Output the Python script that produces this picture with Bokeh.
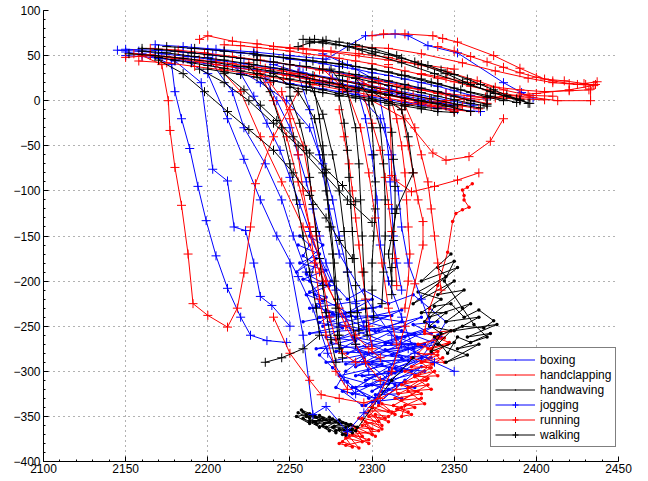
from bokeh.plotting import figure
from bokeh.models import (Range1d, FixedTicker, Legend, LegendItem,
                          CustomJSTickFormatter)
from bokeh.embed import file_html
from bokeh.resources import INLINE

# ---------------- data ----------------
x_ticks = [2100, 2150, 2200, 2250, 2300, 2350, 2400, 2450]
y_ticks = [-400, -350, -300, -250, -200, -150, -100, -50, 0, 50, 100]

series_names = ["boxing", "handclapping", "handwaving", "jogging", "running", "walking"]

boxing_tracks = [
    [(2255, -160), (2268, -170), (2256, -180), (2272, -188), (2258, -198), (2274, -205),
     (2260, -215), (2270, -222), (2262, -200), (2266, -175), (2254, -190), (2270, -160),
     (2262, -150), (2275, -200), (2285, -220), (2295, -210), (2310, -225), (2325, -215),
     (2335, -230), (2345, -245), (2340, -260), (2330, -285), (2315, -300), (2300, -315),
     (2288, -325), (2278, -318), (2284, -300), (2295, -285), (2308, -270), (2320, -262),
     (2332, -255)],
    [(2262, -230), (2300, -220), (2270, -250), (2318, -232), (2278, -265), (2330, -240),
     (2285, -280), (2338, -250), (2290, -295), (2342, -262), (2296, -310), (2336, -280),
     (2300, -322), (2330, -295), (2304, -335), (2320, -310), (2296, -338), (2310, -320),
     (2280, -305), (2322, -288), (2272, -290), (2326, -270), (2266, -275), (2320, -250),
     (2262, -258), (2312, -238), (2268, -240), (2305, -228), (2258, -245)],
    [(2265, -215), (2290, -240), (2272, -232), (2302, -256), (2280, -248), (2312, -270),
     (2288, -262), (2318, -285), (2292, -278), (2324, -300), (2298, -292), (2314, -315),
     (2302, -305), (2290, -318), (2298, -330), (2285, -312), (2276, -296), (2268, -282),
     (2275, -268), (2300, -280), (2325, -275), (2340, -270), (2318, -255), (2295, -245)],
    [(2256, -150), (2262, -160), (2258, -172), (2266, -182), (2260, -192), (2270, -202),
     (2262, -212), (2272, -218), (2266, -228), (2276, -236), (2268, -246), (2282, -252),
     (2272, -262), (2290, -266), (2278, -278), (2298, -280), (2284, -292), (2306, -292),
     (2290, -305), (2314, -302), (2296, -316), (2320, -312), (2302, -326), (2316, -325)],
    [(2340, -245), (2325, -248), (2336, -258), (2315, -262), (2330, -272), (2308, -276),
     (2324, -286), (2300, -290), (2318, -300), (2294, -305), (2310, -314), (2288, -318),
     (2302, -330), (2282, -322), (2294, -338)],
    [(2300, -240), (2318, -245), (2304, -255), (2326, -258), (2308, -268), (2332, -270),
     (2312, -282), (2336, -285), (2314, -296), (2332, -300), (2310, -310), (2326, -318),
     (2306, -322), (2318, -330), (2300, -334)],
]

handclapping_tracks = [
    [(2312, -345), (2326, -340), (2314, -330), (2330, -325), (2318, -315), (2334, -308),
     (2320, -300), (2337, -292), (2324, -285), (2340, -278), (2328, -270), (2344, -263),
     (2332, -258), (2348, -255), (2340, -262), (2336, -275), (2346, -270), (2330, -290),
     (2343, -285), (2326, -305), (2338, -300), (2322, -318), (2334, -315), (2318, -332),
     (2330, -330), (2315, -342), (2324, -348), (2318, -350), (2320, -338), (2332, -336),
     (2322, -322), (2336, -320), (2326, -306), (2340, -305), (2330, -290), (2344, -290),
     (2334, -275), (2347, -268), (2338, -262), (2328, -280), (2340, -282), (2324, -295),
     (2336, -296), (2320, -312), (2333, -310), (2316, -325), (2328, -322), (2313, -338),
     (2322, -345)],
    [(2282, -378), (2292, -385), (2284, -368), (2298, -380), (2288, -360), (2302, -372),
     (2292, -352), (2306, -364), (2296, -346), (2310, -356), (2300, -340), (2314, -348),
     (2306, -336), (2318, -340), (2310, -350), (2302, -348), (2306, -360), (2296, -356),
     (2300, -370), (2290, -366), (2294, -378), (2284, -374), (2288, -384), (2280, -380),
     (2286, -372), (2294, -372), (2290, -362), (2300, -364), (2294, -352), (2304, -356),
     (2298, -344), (2310, -344), (2304, -338), (2298, -350), (2308, -352), (2294, -360),
     (2304, -366), (2288, -370), (2298, -376), (2284, -382)],
    [(2361, -92), (2358, -96), (2355, -99), (2356, -105), (2356, -110), (2359, -118),
     (2355, -121), (2351, -125), (2349, -134), (2346, -168), (2340, -205), (2335, -230),
     (2332, -255)],
]

handwaving_tracks = [
    [(2255, -346), (2262, -352), (2258, -345), (2268, -354), (2262, -347), (2274, -356),
     (2268, -349), (2280, -358), (2274, -351), (2286, -360), (2280, -354), (2291, -362),
     (2284, -358), (2288, -368), (2280, -364), (2284, -371), (2276, -362), (2278, -368),
     (2270, -360), (2274, -366), (2264, -356), (2268, -362), (2258, -352), (2262, -358),
     (2254, -350), (2260, -348), (2266, -351), (2262, -355), (2272, -354), (2266, -358),
     (2278, -356), (2272, -362), (2284, -362), (2278, -366), (2288, -364), (2282, -370)],
    [(2257, -343), (2265, -349), (2260, -350), (2270, -352), (2265, -356), (2276, -353),
     (2271, -358), (2282, -357), (2277, -361), (2287, -359), (2283, -365), (2290, -366),
     (2300, -340), (2312, -310), (2325, -285)],
    [(2348, -170), (2330, -200), (2352, -185), (2325, -225), (2350, -200), (2340, -215),
     (2356, -210), (2335, -240), (2360, -225), (2345, -245), (2365, -240), (2350, -255),
     (2376, -248), (2358, -262), (2372, -258), (2352, -275), (2365, -270), (2345, -290),
     (2358, -282), (2340, -270), (2348, -255), (2335, -250), (2345, -235), (2330, -235),
     (2342, -220), (2328, -212), (2345, -195), (2340, -185), (2350, -178), (2344, -200),
     (2355, -230), (2362, -248), (2370, -262), (2360, -268), (2352, -262), (2346, -280),
     (2338, -262), (2355, -250), (2368, -252), (2374, -244), (2365, -232), (2356, -240),
     (2348, -225), (2338, -228), (2332, -245), (2342, -258), (2336, -278), (2350, -268)],
]

jogging_tracks = [
    [(2145, 56), (2158, 55), (2172, 52), (2188, 49), (2205, 45), (2222, 41), (2240, 36),
     (2258, 31), (2276, 25), (2294, 19), (2312, 12), (2330, 6), (2348, 0), (2362, -5)],
    [(2150, 54), (2165, 50), (2178, 40), (2180, 10), (2184, -20), (2189, -53), (2194, -95),
     (2199, -133), (2205, -172), (2212, -208), (2220, -240), (2226, -260), (2236, -266),
     (2248, -268)],
    [(2160, 52), (2180, 44), (2196, 20), (2203, -76), (2212, -89), (2216, -140),
     (2223, -144), (2228, -180), (2232, -217), (2239, -227), (2250, -250)],
    [(2168, 62), (2185, 60), (2205, 57), (2228, 54), (2250, 50), (2272, 46), (2296, 72),
     (2314, 74), (2322, 72), (2334, 61), (2352, 53), (2380, 20), (2391, 9), (2398, 3)],
    [(2215, 38), (2232, 20), (2248, 0), (2262, -30), (2270, -70), (2276, -110),
     (2280, -150), (2285, -190), (2290, -225), (2295, -250), (2300, -270)],
    [(2240, 40), (2255, 32), (2268, 20), (2290, 10), (2305, -20), (2312, -60),
     (2316, -100), (2318, -140), (2322, -180), (2330, -220), (2335, -245)],
    [(2200, 48), (2215, 10), (2222, -30), (2235, -70), (2245, -110), (2252, -150),
     (2260, -190), (2268, -225), (2275, -245)],
    [(2185, 46), (2200, 30), (2212, -20), (2222, -65), (2232, -110), (2242, -150),
     (2255, -195), (2264, -230), (2273, -280), (2283, -310), (2290, -325)],
    [(2250, -180), (2258, -260), (2264, -348), (2272, -339), (2285, -367), (2295, -346),
     (2302, -332), (2310, -300), (2318, -270)],
    [(2270, 52), (2285, 40), (2300, 25), (2315, 10), (2328, -2), (2340, -8), (2352, -10),
     (2366, -12)],
    [(2290, 20), (2296, -20), (2300, -60), (2303, -110), (2305, -160), (2310, -200),
     (2318, -240), (2326, -280)],
    [(2255, 30), (2262, -10), (2268, -60), (2274, -120), (2280, -170), (2300, -230),
     (2312, -260), (2322, -275), (2338, -290), (2350, -300)],
    [(2150, 57), (2168, 56), (2185, 54), (2203, 51), (2220, 47), (2238, 43), (2256, 38),
     (2274, 33), (2292, 27), (2310, 21), (2328, 14), (2345, 8), (2360, 2)],
    [(2150, 50), (2160, 49), (2170, 47), (2180, 45), (2190, 43), (2200, 41), (2210, 39),
     (2220, 36), (2230, 34), (2240, 31), (2250, 28), (2260, 25), (2270, 22), (2280, 19),
     (2290, 16), (2300, 12), (2310, 9), (2320, 5), (2330, 2), (2340, -2), (2350, -5)],
    [(2190, 58), (2200, 57), (2210, 55), (2220, 53), (2230, 51), (2240, 49), (2250, 46),
     (2260, 44), (2270, 41), (2280, 38), (2290, 35), (2300, 31), (2310, 28), (2320, 24),
     (2330, 20), (2340, 16), (2350, 11), (2360, 6), (2370, 2)],
    [(2240, 22), (2250, 19), (2260, 16), (2270, 13), (2280, 10), (2290, 7), (2300, 4),
     (2310, 1), (2320, -2), (2330, -5), (2340, -8), (2350, -10)],
    [(2235, 25), (2242, 0), (2250, -30), (2255, -60), (2260, -90), (2264, -120),
     (2268, -150), (2272, -180), (2278, -210), (2284, -240), (2290, -270), (2298, -300)],
    [(2305, 0), (2308, -30), (2310, -60), (2311, -90), (2312, -120), (2313, -150),
     (2315, -180), (2318, -210)],
    [(2220, 30), (2228, 5), (2236, -25), (2244, -55), (2250, -85), (2256, -115),
     (2262, -145), (2268, -175), (2274, -205)],
]

running_tracks = [
    [(2160, 50), (2172, 40), (2176, 0), (2177, -33), (2180, -74), (2184, -116),
     (2188, -170), (2191, -225), (2200, -238), (2212, -251), (2218, -230), (2222, -191),
     (2226, -140), (2229, -92), (2240, -40), (2255, 10)],
    [(2195, 68), (2200, 72), (2215, 66), (2230, 63), (2250, 58), (2270, 55), (2290, 50),
     (2310, 45), (2330, 40), (2350, 35)],
    [(2300, 72), (2307, 74), (2320, 74), (2337, 72), (2343, 69), (2352, 65), (2374, 50),
     (2390, 36), (2405, 24), (2417, 22), (2429, 19), (2437, 21), (2433, 13), (2433, 0),
     (2413, 0), (2396, 4), (2369, 4), (2345, 0), (2320, -5)],
    [(2290, 60), (2310, 58), (2330, 52), (2355, 42), (2375, 33), (2395, 25), (2410, 20),
     (2425, 18), (2435, 17), (2420, 12), (2400, 8), (2380, 5), (2360, 0)],
    [(2150, 48), (2165, 50), (2180, 47), (2195, 43), (2212, 38), (2230, 33), (2248, 28),
     (2265, 22), (2282, 16), (2300, 10), (2318, 4), (2336, -2), (2352, -8)],
    [(2225, 42), (2238, 20), (2250, -10), (2258, -50), (2263, -100), (2266, -150),
     (2270, -200), (2274, -240), (2278, -265), (2282, -280), (2290, -290)],
    [(2290, 25), (2305, 10), (2318, -10), (2322, -50), (2325, -80), (2328, -110),
     (2331, -134), (2331, -160), (2326, -203), (2320, -250), (2312, -300), (2300, -340)],
    [(2300, 0), (2320, -20), (2337, -58), (2345, -66), (2359, -62), (2372, -45),
     (2380, -20)],
    [(2232, 30), (2240, 0), (2248, -40), (2255, -90), (2262, -140), (2272, -200),
     (2284, -250), (2296, -290), (2305, -310)],
    [(2270, 35), (2285, 10), (2293, -30), (2298, -80), (2302, -130), (2306, -180),
     (2310, -230), (2315, -270)],
    [(2205, 40), (2220, 10), (2232, -40), (2245, -90), (2258, -140), (2268, -190),
     (2280, -230), (2290, -260), (2298, -275), (2305, -285)],
    [(2310, 40), (2312, -83), (2314, -88), (2324, -101), (2338, -95), (2352, -88),
     (2365, -80)],
    [(2240, -240), (2250, -280), (2262, -310), (2269, -326), (2280, -330), (2295, -335),
     (2305, -330), (2315, -320)],
    [(2165, 58), (2182, 56), (2198, 53), (2215, 49), (2232, 45), (2250, 40), (2268, 34),
     (2286, 28), (2304, 22), (2322, 15), (2340, 8), (2356, 2), (2370, -3)],
    [(2158, 44), (2175, 42), (2192, 38), (2210, 34), (2228, 29), (2246, 24), (2264, 18),
     (2282, 12), (2300, 6), (2318, 0), (2336, -6), (2350, -12)],
    [(2240, 60), (2258, 58), (2275, 55), (2292, 52), (2310, 48), (2328, 40), (2346, 32),
     (2364, 22), (2380, 12), (2395, 6), (2410, 5)],
    [(2155, 52), (2165, 51), (2175, 49), (2185, 47), (2195, 45), (2205, 43), (2215, 41),
     (2225, 38), (2235, 36), (2245, 33), (2255, 30), (2265, 27), (2275, 24), (2285, 21),
     (2295, 18), (2305, 14), (2315, 10), (2325, 6), (2335, 2), (2345, -2), (2355, -6),
     (2365, -9)],
    [(2210, 62), (2220, 61), (2230, 59), (2240, 57), (2250, 55), (2260, 52), (2270, 50),
     (2280, 47), (2290, 44), (2300, 41), (2310, 37), (2320, 33), (2330, 29), (2340, 25),
     (2350, 21), (2360, 16), (2370, 12), (2380, 8), (2390, 5)],
    [(2250, 30), (2260, 26), (2270, 22), (2280, 18), (2290, 14), (2300, 10), (2310, 6),
     (2320, 2), (2330, -2), (2340, -6), (2350, -10), (2360, -12)],
    [(2340, 60), (2350, 55), (2360, 49), (2370, 43), (2380, 37), (2390, 31), (2400, 26),
     (2410, 22), (2420, 19), (2430, 18), (2436, 18)],
    [(2330, 30), (2345, 25), (2360, 20), (2375, 15), (2390, 12), (2405, 10), (2420, 11),
     (2432, 12)],
    [(2300, 20), (2315, 16), (2330, 12), (2345, 8), (2360, 5), (2375, 3), (2390, 2),
     (2405, 1)],
    [(2310, 10), (2315, -20), (2318, -50), (2320, -80), (2321, -110), (2322, -140),
     (2323, -170), (2322, -200), (2320, -230)],
    [(2295, 5), (2300, -25), (2305, -55), (2308, -85), (2310, -115), (2312, -145),
     (2314, -175), (2315, -205)],
    [(2280, -10), (2283, -40), (2286, -70), (2288, -100), (2290, -130), (2292, -160),
     (2294, -190), (2296, -220), (2298, -250), (2300, -275)],
    [(2320, -5), (2326, -30), (2330, -60), (2334, -90), (2336, -120), (2338, -150),
     (2340, -180), (2342, -210)],
    [(2245, 10), (2250, -20), (2255, -60), (2258, -100), (2262, -140), (2265, -180),
     (2268, -220), (2272, -260), (2278, -300), (2285, -320)],
]

walking_tracks = [
    [(2258, 68), (2265, 68), (2272, 67), (2280, 65), (2290, 62), (2300, 58), (2315, 50),
     (2330, 40), (2345, 30), (2360, 18), (2375, 8), (2390, 0)],
    [(2255, 60), (2262, 64), (2270, 66), (2285, 60), (2300, 52), (2318, 42), (2338, 30),
     (2355, 20), (2372, 10), (2388, 2), (2395, -3)],
    [(2160, 55), (2175, 53), (2192, 49), (2210, 45), (2228, 40), (2246, 35), (2264, 28),
     (2282, 22), (2300, 15), (2318, 8), (2336, 2), (2352, -4), (2366, -8)],
    [(2170, 45), (2185, 30), (2198, 10), (2212, -12), (2225, -32), (2240, -55),
     (2252, -80), (2262, -105), (2272, -130), (2280, -155), (2288, -175)],
    [(2240, 30), (2255, 10), (2265, -20), (2270, -60), (2272, -100), (2275, -140),
     (2277, -180), (2279, -220), (2280, -260), (2282, -285)],
    [(2275, 35), (2285, 10), (2290, -30), (2292, -70), (2293, -110), (2294, -150),
     (2295, -190), (2296, -230), (2297, -260)],
    [(2290, 25), (2300, 0), (2305, -30), (2307, -70), (2308, -110), (2308, -150),
     (2307, -190), (2306, -225)],
    [(2225, 38), (2238, 10), (2245, -30), (2250, -70), (2254, -110), (2258, -150),
     (2262, -190), (2266, -230), (2268, -260), (2258, -275), (2245, -285), (2235, -290)],
    [(2262, 20), (2270, -15), (2276, -60), (2280, -100), (2283, -145), (2285, -190),
     (2287, -235), (2290, -270)],
    [(2300, 10), (2318, -10), (2322, -40), (2325, -80), (2315, -120), (2310, -170),
     (2312, -200)],
    [(2195, 35), (2210, 20), (2225, 0), (2240, -25), (2255, -50), (2270, -80),
     (2285, -110), (2300, -135)],
    [(2152, 52), (2168, 50), (2185, 47), (2202, 43), (2220, 38), (2238, 33), (2256, 27),
     (2274, 20), (2292, 14), (2310, 7), (2328, 0), (2345, -6), (2360, -12)],
    [(2175, 60), (2192, 58), (2210, 55), (2228, 52), (2246, 48), (2264, 44), (2282, 40),
     (2300, 35), (2318, 28), (2336, 20), (2354, 12), (2372, 5), (2388, -2)],
    [(2160, 58), (2170, 57), (2180, 55), (2190, 53), (2200, 51), (2210, 49), (2220, 47),
     (2230, 45), (2240, 43), (2250, 40), (2260, 38), (2270, 35), (2280, 32), (2290, 29),
     (2300, 26), (2310, 22), (2320, 18), (2330, 14), (2340, 10), (2350, 5), (2360, 0),
     (2370, -4)],
    [(2170, 48), (2180, 45), (2190, 42), (2200, 39), (2210, 36), (2220, 33), (2230, 30),
     (2240, 27), (2250, 24), (2260, 21), (2270, 18), (2280, 15), (2290, 12), (2300, 9),
     (2310, 6), (2320, 3), (2330, 0), (2340, -3), (2350, -6)],
    [(2230, 50), (2240, 49), (2250, 47), (2260, 45), (2270, 43), (2280, 41), (2290, 38),
     (2300, 35), (2310, 32), (2320, 28), (2330, 24), (2340, 19), (2350, 14), (2360, 9),
     (2370, 4), (2380, 0)],
    [(2262, 66), (2270, 64), (2278, 62), (2286, 60), (2294, 57), (2302, 54), (2310, 51),
     (2318, 47), (2326, 43), (2334, 39), (2342, 34), (2350, 29), (2358, 24), (2366, 18),
     (2374, 12), (2382, 6), (2390, 1), (2396, -3)],
    [(2200, 35), (2210, 32), (2220, 29), (2230, 26), (2240, 22), (2250, 18), (2260, 15),
     (2270, 12), (2280, 8), (2290, 5), (2300, 2), (2310, -1), (2320, -4), (2330, -7),
     (2340, -9)],
    [(2250, 15), (2260, 12), (2270, 9), (2280, 6), (2290, 3), (2300, 0), (2310, -3),
     (2320, -6), (2330, -9), (2340, -12), (2350, -13)],
    [(2280, 28), (2290, 25), (2300, 21), (2310, 17), (2320, 13), (2330, 9), (2340, 5),
     (2350, 1), (2360, -3), (2370, -6)],
    [(2265, 10), (2268, -20), (2270, -50), (2272, -80), (2273, -110), (2274, -140),
     (2276, -170), (2277, -200), (2278, -230), (2279, -260), (2280, -275)],
    [(2280, 5), (2283, -25), (2285, -55), (2286, -85), (2287, -115), (2288, -145),
     (2289, -175), (2290, -205), (2291, -235), (2292, -255)],
    [(2298, 0), (2300, -30), (2301, -60), (2302, -90), (2302, -120), (2301, -150),
     (2300, -180), (2300, -210), (2301, -240)],
    [(2310, -5), (2312, -35), (2313, -65), (2314, -95), (2314, -125), (2313, -155),
     (2312, -185), (2312, -215)],
    [(2250, 5), (2256, -25), (2260, -55), (2262, -85), (2264, -115), (2266, -145),
     (2268, -175), (2270, -205), (2272, -235), (2275, -265), (2278, -290)],
    [(2210, 30), (2222, 12), (2232, -5), (2242, -22), (2252, -40), (2262, -58),
     (2272, -76), (2282, -94), (2290, -112)],
]

# ---------------- figure ----------------
FONT = "Liberation Sans"
p = figure(width=648, height=481, output_backend="svg", toolbar_location=None,
           x_range=Range1d(2100, 2450), y_range=Range1d(-400, 100),
           min_border_left=43, min_border_right=30, min_border_top=10,
           min_border_bottom=20)
p.outline_line_color = None
p.background_fill_color = "white"
p.border_fill_color = "white"

minus_fmt = CustomJSTickFormatter(
    code="return (tick < 0 ? '\\u2212' : '') + Math.abs(tick).toFixed(0);")

p.xaxis.ticker = FixedTicker(ticks=x_ticks, minor_ticks=list(range(2100, 2451, 10)))
p.yaxis.ticker = FixedTicker(ticks=y_ticks, minor_ticks=list(range(-400, 101, 10)))
p.yaxis.formatter = minus_fmt
for ax in (p.xaxis[0], p.yaxis[0]):
    ax.major_tick_in = 5
    ax.major_tick_out = 0
    ax.minor_tick_in = 2
    ax.minor_tick_out = 0
    ax.axis_line_color = "black"
    ax.major_tick_line_color = "black"
    ax.minor_tick_line_color = "black"
    ax.major_label_text_font = FONT
    ax.major_label_text_font_size = "12px"
    ax.major_label_text_color = "black"
p.xaxis.major_label_standoff = 2
p.yaxis.major_label_standoff = 3

for g in (p.xgrid[0], p.ygrid[0]):
    g.grid_line_color = "#555555"
    g.grid_line_dash = "1 4"
    g.grid_line_width = 1
    g.grid_line_alpha = 0.9


def draw(tracks, color, marker):
    xs = [[pt[0] for pt in t] for t in tracks]
    ys = [[pt[1] for pt in t] for t in tracks]
    lr = p.multi_line(xs, ys, line_color=color, line_width=1)
    fx = [v for t in xs for v in t]
    fy = [v for t in ys for v in t]
    if marker == "cross":
        sr = p.scatter(fx, fy, marker="cross", size=9, line_color=color, line_width=1)
    else:
        sr = p.scatter(fx, fy, marker="dot", size=14, line_color=color,
                       fill_color=color)
    return [lr, sr]


all_tracks = [boxing_tracks, handclapping_tracks, handwaving_tracks,
              jogging_tracks, running_tracks, walking_tracks]
colors = ["#0000ff", "#ff0000", "#000000", "#0000ff", "#ff0000", "#000000"]
markers = ["dot", "dot", "dot", "cross", "cross", "cross"]

items = []
for name, tr, c, m in zip(series_names, all_tracks, colors, markers):
    rs = draw(tr, c, m)
    items.append(LegendItem(label=name, renderers=rs))

legend = Legend(items=items, location=(447, 14))
legend.label_text_font = FONT
legend.label_text_font_size = "12px"
legend.label_text_color = "black"
legend.label_height = 15
legend.glyph_height = 15
legend.glyph_width = 40
legend.label_standoff = 5
legend.spacing = 0
legend.padding = 4
legend.margin = 0
legend.border_line_color = "black"
legend.border_line_width = 1
legend.background_fill_color = "white"
legend.background_fill_alpha = 1
p.add_layout(legend)

open("out.html", "w").write(file_html(p, INLINE))
